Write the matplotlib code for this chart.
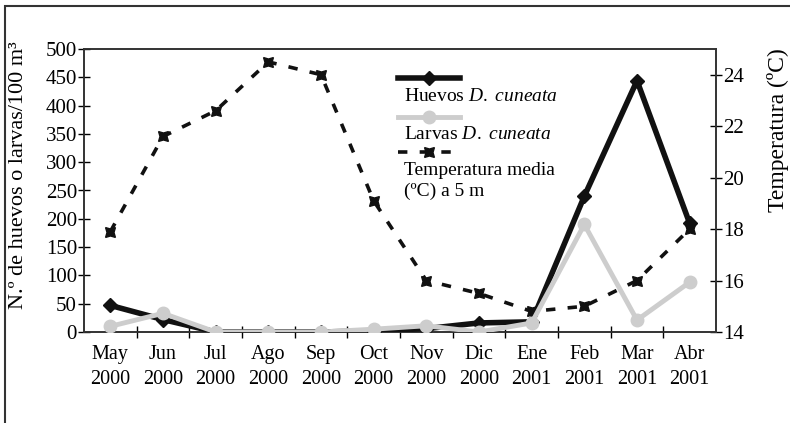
import matplotlib
matplotlib.use("Agg")
import matplotlib.pyplot as plt
from matplotlib.lines import Line2D
from matplotlib.patches import Rectangle
import numpy as np

plt.rcParams["font.family"] = "Liberation Serif"
plt.rcParams["mathtext.fontset"] = "custom"
plt.rcParams["mathtext.rm"] = "Liberation Serif"
plt.rcParams["mathtext.it"] = "Liberation Serif:italic"

# datos
meses = ["May\n2000", "Jun\n2000", "Jul\n2000", "Ago\n2000", "Sep\n2000", "Oct\n2000",
         "Nov\n2000", "Dic\n2000", "Ene\n2001", "Feb\n2001", "Mar\n2001", "Abr\n2001"]
huevos = [47, 22, 0, 0, 0, 2, 6, 16, 18, 240, 444, 192]
larvas = [10, 33, 0, 0, 0, 5, 11, 0, 16, 190, 21, 88]
temperatura = [17.9, 21.6, 22.6, 24.5, 24.0, 19.1, 16.0, 15.5, 14.8, 15.0, 16.0, 18.0]

x = np.arange(len(meses))
gris = "#cdcdcd"

fig = plt.figure(figsize=(7.9, 4.23), dpi=100)
ax = fig.add_axes([84/790, 91/423, 632/790, 283/423])
ax2 = ax.twinx()

# temperatura detras
ax2.plot(x, temperatura, color="#111111", lw=2.6, ls=(0, (2.6, 3.4)),
         marker=(4, 1, 45), ms=10, mfc="#111111", mec="#111111")
ax.plot(x, huevos, color="#111111", lw=4, marker="D", ms=7, zorder=3)
ax.plot(x, larvas, color=gris, lw=3.5, marker="o", ms=9, zorder=4)
ax.set_zorder(ax2.get_zorder() + 1)
ax.patch.set_visible(False)

ax.set_xlim(-0.5, 11.5)
ax.set_ylim(0, 500)
ax2.set_ylim(14, 25)
ax.set_yticks(range(0, 501, 50))
ax2.set_yticks(range(14, 25, 2))
ax.set_xticks(x)
ax.set_xticklabels(meses, linespacing=1.45)
ax.set_xticks(np.arange(0.5, 11, 1), minor=True)
ax.tick_params(axis="x", which="major", length=0, labelsize=14.5, pad=9)
ax.tick_params(axis="x", which="minor", direction="inout", length=8, width=1)
ax.tick_params(axis="y", direction="inout", length=8, width=1, labelsize=15, pad=1)
ax2.tick_params(axis="y", direction="inout", length=8, width=1, labelsize=15, pad=1)

for a in (ax, ax2):
    for s in a.spines.values():
        s.set_color("#333333")
        s.set_linewidth(1.2)

ax.set_ylabel("N.º de huevos o larvas/100 m³", fontsize=16)
ax.yaxis.set_label_coords(-0.089, 0.555)
ax2.set_ylabel("Temperatura (ºC)", fontsize=17)
ax2.yaxis.set_label_coords(1.081, 0.714)

# leyenda a mano
t = ax.transAxes
def lx(px):
    return (px - 84) / 632
def ly(py):
    return (332 - py) / 283

ax.add_line(Line2D([lx(398), lx(460)], [ly(78), ly(78)], transform=t, color="#111111",
                   lw=4, clip_on=False))
ax.add_line(Line2D([lx(429)], [ly(78)], transform=t, color="#111111", marker="D", ms=7, clip_on=False))
ax.text(lx(404), ly(101), r"Huevos $\mathit{D.\ cuneata}$", transform=t, fontsize=14, va="baseline")
ax.add_line(Line2D([lx(398), lx(460)], [ly(117), ly(117)], transform=t, color=gris,
                   lw=3.5, clip_on=False))
ax.add_line(Line2D([lx(429)], [ly(117)], transform=t, color=gris, marker="o", ms=9, clip_on=False))
ax.text(lx(404), ly(139), r"Larvas $\mathit{D.\ cuneata}$", transform=t, fontsize=14, va="baseline")
ax.add_line(Line2D([lx(398), lx(452)], [ly(152), ly(152)], transform=t, color="#111111",
                   lw=2.6, ls=(0, (2.6, 3.4)), clip_on=False))
ax.add_line(Line2D([lx(429)], [ly(152)], transform=t, color="#111111", marker=(4, 1, 45),
                   ms=10, clip_on=False))
ax.text(lx(404), ly(175), "Temperatura media", transform=t, fontsize=14, va="baseline")
ax.text(lx(404), ly(196), "(ºC) a 5 m", transform=t, fontsize=14, va="baseline")

fig.patches.append(Rectangle((5/790, -0.1), 1.2, 1 - 6/423 + 0.1, transform=fig.transFigure,
                             fill=False, ec="#333333", lw=1.5))

fig.savefig("out.png", dpi=100)
